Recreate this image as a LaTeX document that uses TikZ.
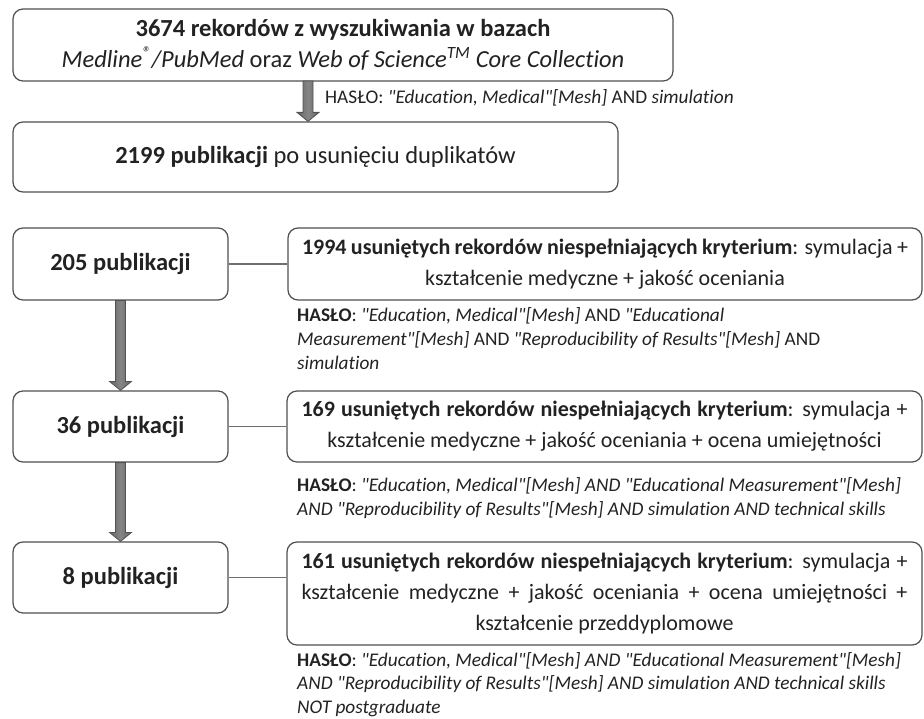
\documentclass[tikz,border=0pt]{standalone}
\usepackage{fontspec}
\setmainfont{Carlito}[Ligatures={TeXOff,CommonOff}]
\usetikzlibrary{calc}
\definecolor{txt}{HTML}{222222}
\definecolor{bord}{HTML}{505050}
\definecolor{connc}{HTML}{6E6E6E}
\definecolor{arrdark}{HTML}{666666}
\definecolor{arrlight}{HTML}{858585}
\newcommand{\fatarrow}[2]{%
  \path[fatarr] let \p1=(#1), \p2=(#2) in
    (\x1-5pt,\y1) -- (\x1-5pt,\y2+9pt) -- (\x1-11pt,\y2+9pt) -- (\x1,\y2)
    -- (\x1+11pt,\y2+9pt) -- (\x1+5pt,\y2+9pt) -- (\x1+5pt,\y1) -- cycle;}
\begin{document}
\begin{tikzpicture}[x=1pt,y=-1pt,
  every node/.style={text=txt, inner sep=0pt},
  box/.style={draw=bord, line width=1.2pt, rounded corners=10pt, fill=white, align=center,
    font=\fontsize{24.5}{31}\selectfont},
  rbox/.style={draw=bord, line width=1.2pt, rounded corners=10pt, fill=white, align=center,
    font=\fontsize{22}{31}\selectfont},
  kw/.style={anchor=base west, font=\fontsize{19.3}{24}\selectfont},
  conn/.style={draw=connc, line width=1.4pt},
  fatarr/.style={left color=arrdark, right color=arrdark, middle color=arrlight, draw=arrdark!80!black, line width=0.8pt}]
\useasboundingbox (0,0) rectangle (924,719);

% boxes
\node[box, minimum width=660, minimum height=72] (b1) at (343,45)
  {\textbf{3674 rekordów z wyszukiwania w bazach}\\
   \textit{Medline\textsuperscript{®}/PubMed} oraz \textit{Web of Science\textsuperscript{TM} Core Collection}};
\node[box, minimum width=605, minimum height=70] (b2) at (315.5,157)
  {\textbf{2199 publikacji} po usunięciu duplikatów};
\node[box, minimum width=215, minimum height=72] (b3) at (120.5,264) {\textbf{205 publikacji}};
\node[box, minimum width=215, minimum height=71] (b4) at (120.5,426.5) {\textbf{36 publikacji}};
\node[box, minimum width=215, minimum height=71] (b5) at (120.5,577.5) {\textbf{8 publikacji}};

\node[rbox, minimum width=634, minimum height=72] (r1) at (605,264)
  {\makebox[606pt][s]{\textbf{1994 usuniętych rekordów niespełniających kryterium}: symulacja +}\\
   kształcenie medyczne + jakość oceniania};
\node[rbox, minimum width=635, minimum height=71] (r2) at (604.5,426.5)
  {\makebox[606pt][s]{\textbf{169 usuniętych rekordów niespełniających kryterium}: symulacja +}\\
   kształcenie medyczne + jakość oceniania + ocena umiejętności};
\node[rbox, minimum width=635, minimum height=103] (r3) at (604.5,593.5)
  {\makebox[606pt][s]{\textbf{161 usuniętych rekordów niespełniających kryterium}: symulacja +}\\
   \makebox[606pt][s]{kształcenie medyczne + jakość oceniania + ocena umiejętności +}\\
   kształcenie przeddyplomowe};

% arrows
\coordinate (t1) at (308,81);
\fatarrow{t1}{t1 |- b2.north}
\fatarrow{b3.south}{b4.north}
\fatarrow{b4.south}{b5.north}

% connectors
\draw[conn] (b3.east) -- (r1.west);
\draw[conn] (b4.east) -- (r2.west);
\draw[conn] (b5.east) -- (b5.east -| r3.west);

% search terms
\node[kw] (k0) at (325,104) {HASŁO: \textit{"Education, Medical"[Mesh]} AND \textit{simulation}};

\node[kw] (k1a) at (297,322) {\textbf{HASŁO}: \textit{"Education, Medical"[Mesh]} AND \textit{"Educational}};
\node[kw] (k1b) at (297,346) {\textit{Measurement"[Mesh]} AND \textit{"Reproducibility of Results"[Mesh]} AND};
\node[kw] (k1c) at (297,370) {\textit{simulation}};

\node[kw] (k2a) at (297,491) {\textbf{HASŁO}: \textit{"Education, Medical"[Mesh] AND "Educational Measurement"[Mesh]}};
\node[kw] (k2b) at (297,515) {\textit{AND "Reproducibility of Results"[Mesh] AND simulation AND technical skills}};

\node[kw] (k3a) at (297,666) {\textbf{HASŁO}: \textit{"Education, Medical"[Mesh] AND "Educational Measurement"[Mesh]}};
\node[kw] (k3b) at (297,689.5) {\textit{AND "Reproducibility of Results"[Mesh] AND simulation AND technical skills}};
\node[kw] (k3c) at (297,713) {\textit{NOT postgraduate}};
\end{tikzpicture}
\end{document}
